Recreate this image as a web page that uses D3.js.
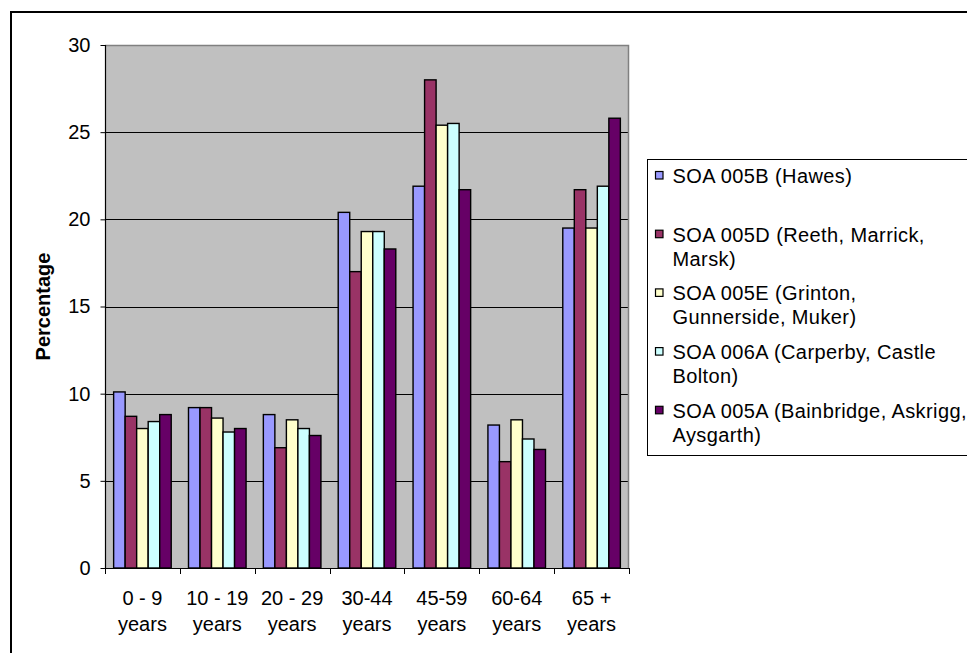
<!DOCTYPE html>
<html>
<head>
<meta charset="utf-8">
<script src="https://cdn.jsdelivr.net/npm/d3@7"></script>
<style>
  html, body { margin: 0; padding: 0; background: #fff; }
  svg { display: block; font-family: "Liberation Sans", Arial, sans-serif; }
</style>
</head>
<body>
<svg id="chart" width="967" height="653"></svg>
<script>
// Age bands (two-line labels) and the percentage of residents in each band per area
const categories = ["0 - 9|years", "10 - 19|years", "20 - 29|years", "30-44|years", "45-59|years", "60-64|years", "65 +|years"];

const seriesNames = [
  "SOA 005B (Hawes)",
  "SOA 005D (Reeth, Marrick,|Marsk)",
  "SOA 005E (Grinton,|Gunnerside, Muker)",
  "SOA 006A (Carperby, Castle|Bolton)",
  "SOA 005A (Bainbridge, Askrigg,|Aysgarth)"
];

const hawes      = [10.1, 9.2, 8.8, 20.4, 21.9, 8.2, 19.5];
const reeth      = [8.7, 9.2, 6.9, 17.0, 28.0, 6.1, 21.7];
const grinton    = [8.0, 8.6, 8.5, 19.3, 25.4, 8.5, 19.5];
const carperby   = [8.4, 7.8, 8.0, 19.3, 25.5, 7.4, 21.9];
const bainbridge = [8.8, 8.0, 7.6, 18.3, 21.7, 6.8, 25.8];

const seriesValues = [hawes, reeth, grinton, carperby, bainbridge];
const colors = ["#9999FF", "#993366", "#FFFFCC", "#CCFFFF", "#660066"];
const yTicks = [0, 5, 10, 15, 20, 25, 30];

const svg = d3.select("#chart");
const plot = { left: 105, right: 629, top: 45, bottom: 568 };

// Outer chart frame (runs off the right and bottom edges)
svg.append("rect")
  .attr("x", 11).attr("y", 12)
  .attr("width", 1000).attr("height", 700)
  .attr("fill", "#fff").attr("stroke", "#000").attr("stroke-width", 2);

const x0 = d3.scaleBand().domain(d3.range(categories.length)).range([plot.left, plot.right]).padding(0);
const x1 = d3.scaleBand().domain(d3.range(seriesNames.length)).range([0, x0.bandwidth()])
  .paddingInner(0).paddingOuter(0.75);
const y = d3.scaleLinear().domain([0, 30]).range([plot.bottom, plot.top]);

// Plot background
svg.append("rect")
  .attr("x", plot.left).attr("y", plot.top)
  .attr("width", plot.right - plot.left).attr("height", plot.bottom - plot.top)
  .attr("fill", "#C0C0C0");

// Horizontal gridlines
svg.append("g").selectAll("line")
  .data(yTicks.filter(t => t > 0 && t < 30))
  .join("line")
  .attr("x1", plot.left).attr("x2", plot.right)
  .attr("y1", d => Math.round(y(d)) + 0.5).attr("y2", d => Math.round(y(d)) + 0.5)
  .attr("stroke", "#000").attr("stroke-width", 1);

// Grey plot border on top and right
svg.append("path")
  .attr("d", `M${plot.left},${plot.top + 0.5}H${plot.right - 0.5}V${plot.bottom}`)
  .attr("fill", "none").attr("stroke", "#808080").attr("stroke-width", 1.5);

// Bars
const groups = svg.append("g").selectAll("g")
  .data(categories.map((c, i) => i))
  .join("g")
  .attr("transform", i => `translate(${x0(i)},0)`);

groups.selectAll("rect")
  .data(i => seriesValues.map((vals, s) => ({ s, v: vals[i] })))
  .join("rect")
  .attr("x", d => x1(d.s))
  .attr("y", d => y(d.v))
  .attr("width", x1.bandwidth())
  .attr("height", d => y(0) - y(d.v))
  .attr("fill", d => colors[d.s])
  .attr("stroke", "#000")
  .attr("stroke-width", 1.4);

// Y axis
const yAxis = d3.axisLeft(y).tickValues(yTicks).tickSize(5).tickPadding(10);
const gy = svg.append("g")
  .attr("transform", `translate(${plot.left + 0.5},0)`)
  .call(yAxis);
gy.select(".domain").attr("stroke", "#000").attr("stroke-width", 1.2).attr("d", `M0,${plot.top}V${plot.bottom}`);
gy.selectAll(".tick line").attr("stroke", "#000");
gy.selectAll(".tick text")
  .attr("font-size", 20).attr("font-family", "Liberation Sans, Arial, sans-serif")
  .attr("fill", "#000");

// X axis with tick marks at the category boundaries
const gx = svg.append("g");
gx.append("line")
  .attr("x1", plot.left).attr("x2", plot.right)
  .attr("y1", plot.bottom + 0.5).attr("y2", plot.bottom + 0.5)
  .attr("stroke", "#000").attr("stroke-width", 1.2);
gx.selectAll("line.tick")
  .data(d3.range(categories.length + 1))
  .join("line")
  .attr("class", "tick")
  .attr("x1", i => Math.round(plot.left + i * x0.step()) + 0.5)
  .attr("x2", i => Math.round(plot.left + i * x0.step()) + 0.5)
  .attr("y1", plot.bottom).attr("y2", plot.bottom + 6)
  .attr("stroke", "#000").attr("stroke-width", 1);

const xl = gx.selectAll("text.cat")
  .data(categories.map((c, i) => ({ c, i })))
  .join("text")
  .attr("class", "cat")
  .attr("text-anchor", "middle")
  .attr("font-size", 20)
  .attr("fill", "#000");
xl.selectAll("tspan")
  .data(d => d.c.split("|").map((t, k) => ({ t, k, i: d.i })))
  .join("tspan")
  .attr("x", d => x0(d.i) + x0.bandwidth() / 2)
  .attr("y", d => 605 + d.k * 26)
  .text(d => d.t);

// Y axis title
svg.append("text")
  .attr("transform", `translate(50,${(plot.top + plot.bottom) / 2}) rotate(-90)`)
  .attr("text-anchor", "middle")
  .attr("font-size", 20)
  .attr("font-weight", "bold")
  .attr("fill", "#000")
  .text("Percentage");

// Legend
const legend = svg.append("g");
legend.append("rect")
  .attr("x", 647.5).attr("y", 159.5)
  .attr("width", 400).attr("height", 296)
  .attr("fill", "#fff").attr("stroke", "#000").attr("stroke-width", 1);

const entries = legend.selectAll("g.entry")
  .data(seriesNames.map((n, s) => ({ n, s })))
  .join("g")
  .attr("class", "entry")
  .attr("transform", d => `translate(0,${183 + d.s * 58.7})`);

entries.append("rect")
  .attr("x", 655.5).attr("y", -11.5)
  .attr("width", 7.5).attr("height", 7.5)
  .attr("fill", d => colors[d.s])
  .attr("stroke", "#000").attr("stroke-width", 1.2);

const lt = entries.append("text")
  .attr("font-size", 20)
  .attr("letter-spacing", 0.4)
  .attr("fill", "#000");
lt.selectAll("tspan")
  .data(d => d.n.split("|").map((t, k) => ({ t, k })))
  .join("tspan")
  .attr("x", 672.5)
  .attr("y", d => d.k * 24)
  .text(d => d.t);
</script>
</body>
</html>
